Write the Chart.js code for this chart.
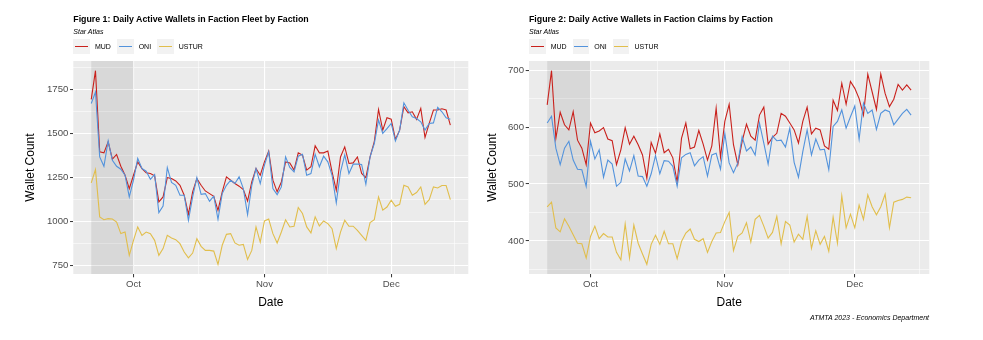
<!DOCTYPE html>
<html>
<head>
<meta charset="utf-8">
<title>Daily Active Wallets by Faction</title>
<script src="https://cdn.jsdelivr.net/npm/chart.js@4.4.0/dist/chart.umd.min.js"></script>
<style>
  body { margin: 0; background: #fff; font-family: "Liberation Sans", Arial, sans-serif; }
  #page { position: relative; width: 983px; height: 340px; overflow: hidden; }
  canvas { position: absolute; top: 0; }
  .title { position: absolute; top: 13.5px; font-size: 8.8px; line-height: 10px; font-weight: bold; color: #000; white-space: nowrap; }
  .subtitle { position: absolute; top: 27.5px; font-size: 7px; line-height: 8px; font-style: italic; color: #000; }
  .legend { position: absolute; top: 39.3px; display: flex; align-items: center; font-size: 7px; color: #000; }
  .legend .key { position: relative; width: 16.7px; height: 14.8px; background: #f2f2f2; margin-right: 5px; }
  .legend .key i { position: absolute; left: 1.6px; right: 1.6px; top: 6.9px; height: 1.1px; }
  .legend .name { margin-right: 6px; }
  .caption { position: absolute; right: 54px; top: 314px; font-size: 7px; line-height: 8px; font-style: italic; color: #000; }
</style>
</head>
<body>
<div id="page">
  <canvas id="fleet" width="490" height="340" style="left:0"></canvas>
  <canvas id="claims" width="503" height="340" style="left:480px"></canvas>

  <div class="title" style="left:73.3px">Figure 1: Daily Active Wallets in Faction Fleet by Faction</div>
  <div class="subtitle" style="left:73.3px">Star Atlas</div>
  <div class="legend" id="legend-fleet" style="left:73.3px"></div>

  <div class="title" style="left:529px">Figure 2: Daily Active Wallets in Faction Claims by Faction</div>
  <div class="subtitle" style="left:529px">Star Atlas</div>
  <div class="legend" id="legend-claims" style="left:529px"></div>

  <div class="caption">ATMTA 2023 - Economics Department</div>
</div>

<script>
// daily series start on this date, one value per day
const startDate = '2023-09-21';
const monthTicks = ['2023-10-01', '2023-11-01', '2023-12-01'];
const monthLabels = ['Oct', 'Nov', 'Dec'];
const shadedWindow = ['2023-09-21', '2023-10-01'];

const factions = ['MUD', 'ONI', 'USTUR'];
const factionColors = ['#c9211c', '#5393dc', '#e1be4c'];

// Faction Fleet, Sep 21 - Dec 15
const fleetMud = [1693, 1856, 1396, 1390, 1453, 1354, 1381, 1314, 1263, 1187,
  1263, 1339, 1301, 1277, 1273, 1260, 1112, 1140, 1250, 1244,
  1231, 1206, 1150, 1042, 1169, 1244, 1206, 1174, 1159, 1144,
  1064, 1169, 1254, 1235, 1216, 1201, 1182, 1117, 1225, 1301,
  1263, 1339, 1400, 1235, 1169, 1225, 1339, 1333, 1292, 1390,
  1377, 1292, 1311, 1430, 1390, 1390, 1400, 1282, 1178, 1367,
  1424, 1330, 1333, 1367, 1273, 1250, 1367, 1453, 1636, 1519,
  1589, 1581, 1466, 1519, 1652, 1617, 1623, 1580, 1642, 1477,
  1557, 1633, 1633, 1640, 1633, 1547];
const fleetOni = [1670, 1735, 1367, 1314, 1458, 1348, 1314, 1297, 1263, 1140,
  1235, 1358, 1301, 1286, 1240, 1267, 1051, 1089, 1307, 1222,
  1206, 1150, 1150, 1008, 1140, 1250, 1155, 1159, 1116, 1144,
  1013, 1159, 1206, 1235, 1216, 1254, 1187, 1040, 1206, 1301,
  1216, 1320, 1396, 1187, 1153, 1197, 1367, 1307, 1282, 1371,
  1382, 1263, 1273, 1382, 1311, 1371, 1339, 1263, 1106, 1282,
  1378, 1273, 1326, 1326, 1324, 1212, 1367, 1443, 1576, 1500,
  1528, 1557, 1458, 1519, 1674, 1632, 1595, 1585, 1566, 1519,
  1557, 1560, 1648, 1623, 1589, 1580];
const fleetUstur = [1220, 1295, 1027, 1011, 1017, 1015, 998, 932, 941, 809,
  894, 970, 922, 941, 932, 894, 809, 847, 922, 907,
  898, 875, 828, 795, 822, 903, 860, 837, 837, 833,
  758, 866, 928, 932, 879, 866, 871, 786, 837, 970,
  884, 1004, 1015, 932, 879, 941, 1011, 970, 974, 1080,
  1046, 970, 936, 1027, 976, 1004, 989, 960, 847, 941,
  1008, 974, 974, 951, 922, 894, 995, 1011, 1140, 1065,
  1083, 1121, 1087, 1098, 1206, 1197, 1150, 1165, 1197, 1098,
  1125, 1197, 1191, 1205, 1205, 1125];

// Faction Claims, Sep 21 - Dec 14
const claimsMud = [639, 699, 580, 626, 604, 595, 627, 577, 563, 534,
  607, 590, 593, 599, 579, 576, 534, 560, 599, 570,
  584, 569, 551, 510, 573, 554, 588, 555, 561, 546,
  503, 580, 607, 562, 565, 594, 570, 542, 567, 633,
  547, 610, 640, 569, 534, 575, 605, 584, 577, 621,
  635, 570, 582, 589, 624, 619, 607, 595, 572, 610,
  635, 588, 598, 595, 567, 561, 647, 629, 677, 640,
  680, 668, 650, 621, 693, 662, 631, 693, 659, 636,
  649, 675, 665, 674, 665];
const claimsOni = [607, 619, 563, 534, 563, 575, 542, 526, 525, 496,
  575, 544, 560, 512, 542, 535, 496, 503, 544, 523,
  550, 514, 513, 496, 518, 550, 518, 541, 540, 531,
  496, 546, 552, 555, 532, 542, 548, 514, 551, 554,
  526, 589, 537, 520, 537, 583, 558, 565, 551, 607,
  572, 535, 584, 576, 577, 565, 598, 538, 512, 557,
  595, 551, 579, 560, 561, 525, 601, 610, 630, 598,
  618, 637, 579, 642, 624, 630, 596, 624, 630, 627,
  604, 614, 624, 631, 621];
const claimsUstur = [460, 468, 423, 416, 439, 426, 411, 396, 395, 370,
  408, 426, 404, 413, 407, 407, 380, 367, 430, 370,
  428, 396, 377, 359, 394, 410, 394, 417, 395, 395,
  369, 399, 414, 421, 403, 399, 404, 380, 399, 414,
  415, 434, 450, 383, 408, 414, 432, 398, 438, 445,
  426, 405, 415, 443, 395, 434, 428, 398, 412, 403,
  443, 387, 418, 394, 408, 382, 442, 396, 479, 423,
  447, 423, 463, 438, 481, 460, 446, 460, 482, 423,
  468, 471, 473, 477, 476];

const fleetTicks = [750, 1000, 1250, 1500, 1750];
const claimsTicks = [400, 500, 600, 700];

const FONT = '"Liberation Sans", Arial, sans-serif';
Chart.defaults.font.family = FONT;

const dayOf = d => (Date.parse(d) - Date.parse(startDate)) / 86400000;
const monthDays = monthTicks.map(dayOf);

// ggplot style minor breaks: midpoints, plus half a step past each end
function withMinors(major) {
  const all = major.slice();
  for (let i = 0; i < major.length - 1; i++) all.push((major[i] + major[i + 1]) / 2);
  all.push(major[0] - (major[1] - major[0]) / 2);
  const n = major.length;
  all.push(major[n - 1] + (major[n - 1] - major[n - 2]) / 2);
  return all.sort((a, b) => a - b);
}

function expand(lo, hi) {
  const pad = (hi - lo) * 0.05;
  return [lo - pad, hi + pad];
}

const panelBackground = {
  id: 'panelBackground',
  beforeDraw(chart) {
    const { ctx, chartArea: a } = chart;
    ctx.save();
    ctx.fillStyle = '#ebebeb';
    ctx.fillRect(a.left, a.top, a.right - a.left, a.bottom - a.top);
    ctx.restore();
  },
  beforeDatasetsDraw(chart) {
    const { ctx, chartArea: a, scales } = chart;
    const x0 = scales.x.getPixelForValue(dayOf(shadedWindow[0]));
    const x1 = scales.x.getPixelForValue(dayOf(shadedWindow[1]));
    ctx.save();
    ctx.fillStyle = 'rgba(0,0,0,0.08)';
    ctx.fillRect(x0, a.top, x1 - x0, a.bottom - a.top);
    ctx.restore();
  }
};

function gridStyle(majors) {
  return {
    color: '#ffffff',
    lineWidth: c => majors.includes(c.tick.value) ? 1.1 : 0.55,
    tickColor: c => majors.includes(c.tick.value) ? '#333333' : 'rgba(0,0,0,0)',
    tickLength: 3.3,
    tickWidth: 1
  };
}

function makePanel(id, series, yTicks, frame) {
  const allValues = series.flat();
  const [yMin, yMax] = expand(Math.min(...allValues), Math.max(...allValues));
  const lastDay = Math.max(...series.map(s => s.length)) - 1;
  const [xMin, xMax] = expand(0, lastDay);
  const xGrid = withMinors(monthDays);
  const yGrid = withMinors(yTicks);

  return new Chart(document.getElementById(id), {
    type: 'line',
    data: {
      datasets: factions.map((name, k) => ({
        label: name,
        data: series[k].map((v, i) => ({ x: i, y: v })),
        borderColor: factionColors[k],
        borderWidth: 1.1,
        pointRadius: 0,
        tension: 0,
        fill: false,
        order: factions.length - k
      }))
    },
    options: {
      responsive: false,
      animation: false,
      devicePixelRatio: 1,
      layout: { padding: frame.padding },
      plugins: {
        legend: { display: false },
        tooltip: { enabled: false }
      },
      scales: {
        x: {
          type: 'linear',
          min: xMin,
          max: xMax,
          afterBuildTicks: s => { s.ticks = xGrid.filter(v => v >= xMin && v <= xMax).map(v => ({ value: v })); },
          afterFit: s => { s.height = frame.xAxisHeight; },
          border: { display: false },
          grid: gridStyle(monthDays),
          ticks: {
            autoSkip: false,
            maxRotation: 0,
            padding: 1,
            color: '#4d4d4d',
            font: { size: 9.6 },
            callback: v => {
              const i = monthDays.indexOf(v);
              return i >= 0 ? monthLabels[i] : '';
            }
          },
          title: {
            display: true,
            text: 'Date',
            color: '#000',
            font: { size: 12 },
            padding: { top: 0, bottom: 2 }
          }
        },
        y: {
          min: yMin,
          max: yMax,
          afterBuildTicks: s => { s.ticks = yGrid.filter(v => v >= yMin && v <= yMax).map(v => ({ value: v })); },
          afterFit: s => { s.width = frame.yAxisWidth; },
          border: { display: false },
          grid: gridStyle(yTicks),
          ticks: {
            autoSkip: false,
            padding: 1.7,
            color: '#4d4d4d',
            font: { size: 9.6 },
            callback: v => yTicks.includes(v) ? String(v) : ''
          },
          title: {
            display: true,
            text: 'Wallet Count',
            color: '#000',
            font: { size: 12 },
            padding: { top: frame.yTitlePad, bottom: 0 }
          }
        }
      }
    },
    plugins: [panelBackground]
  });
}

function buildLegend(id) {
  const box = document.getElementById(id);
  factions.forEach((name, k) => {
    const key = document.createElement('span');
    key.className = 'key';
    const line = document.createElement('i');
    line.style.background = factionColors[k];
    key.appendChild(line);
    const label = document.createElement('span');
    label.className = 'name';
    label.textContent = name;
    box.appendChild(key);
    box.appendChild(label);
  });
}

makePanel('fleet', [fleetMud, fleetOni, fleetUstur], fleetTicks, {
  padding: { left: 20, right: 21.7, top: 61, bottom: 28.5 },
  yAxisWidth: 53.3,
  xAxisHeight: 37.5,
  yTitlePad: 3.8
});

makePanel('claims', [claimsMud, claimsOni, claimsUstur], claimsTicks, {
  padding: { left: 3.8, right: 53.7, top: 61, bottom: 28.5 },
  yAxisWidth: 45.2,
  xAxisHeight: 37.5,
  yTitlePad: 2
});

buildLegend('legend-fleet');
buildLegend('legend-claims');
</script>
</body>
</html>
